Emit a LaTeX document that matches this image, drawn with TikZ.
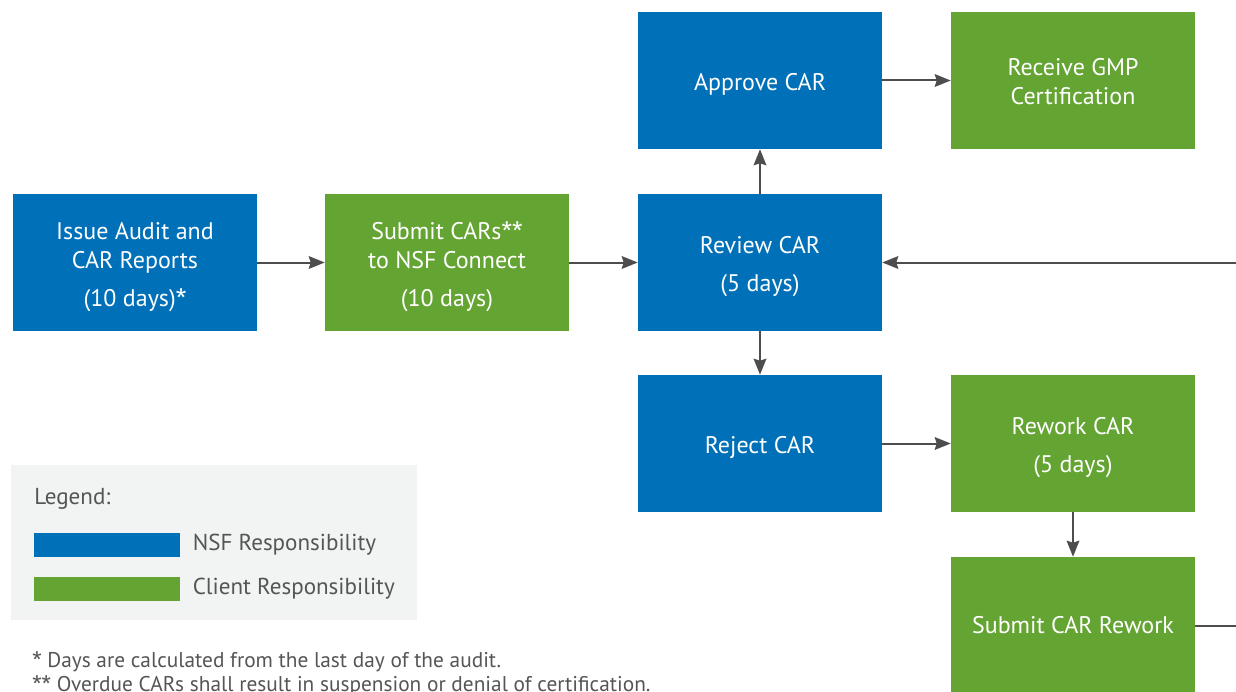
\documentclass[tikz,border=0pt]{standalone}
\usepackage{fontspec}
\setmainfont{PT Sans}
\newfontfamily\starfont{Fira Sans}
\usetikzlibrary{positioning,calc,arrows.meta}

\definecolor{nsfblue}{RGB}{0,112,184}
\definecolor{clientgreen}{RGB}{100,164,50}
\definecolor{legendgray}{RGB}{242,244,243}
\definecolor{arrowgray}{RGB}{77,77,77}
\definecolor{notegray}{RGB}{85,85,85}

\newcommand{\mystar}{{\starfont*}}
\newcommand{\topgap}{\rule{0pt}{19pt}}

\tikzset{
  stepbox/.style={minimum width=183pt, minimum height=102.75pt, inner sep=0pt,
    text=white, align=center, font=\fontsize{18}{21.75}\selectfont},
  nsf/.style={stepbox, fill=nsfblue},
  client/.style={stepbox, fill=clientgreen},
  flow/.style={draw=arrowgray, line width=1.5pt,
    -{Stealth[length=12pt, width=9.5pt, inset=1.5pt]}},
  keytext/.style={text=notegray, anchor=west, inner sep=0pt,
    font=\fontsize{17.3}{20}\selectfont},
  notetext/.style={keytext, font=\fontsize{16}{18}\selectfont},
  keybar/.style={minimum width=109.5pt, minimum height=18pt, inner sep=0pt, anchor=west},
}

\begin{document}
\begin{tikzpicture}[x=0.75pt, y=-0.75pt]
    \useasboundingbox (0,0) rectangle (1236,692);
    \clip (0,0) rectangle (1236,692);

    % Audit steps
    \node[nsf] (issue) at (135,262.5) {\topgap Issue Audit and\\CAR Reports\\[6.75pt](10 days)\mystar};
    \node[client] (submit) at (447,262.5) {\topgap Submit CARs\mystar\mystar\\to NSF Connect\\[6.75pt](10 days)};
    \node[nsf] (review) at (760,262.5) {\topgap Review CAR\\[6.75pt](5 days)};
    \node[nsf] (approve) at (760,80.5) {\topgap Approve CAR};
    \node[client] (receive) at (1073,80.5) {\rule{0pt}{14.5pt}Receive GMP\\Certification};
    \node[nsf] (reject) at (760,443.5) {\topgap Reject CAR};
    \node[client] (rework) at (1073,443.5) {\topgap Rework CAR\\[6.75pt](5 days)};
    \node[client] (resubmit) at (1073,625.5) {Submit CAR Rework};

    % Connectors
    \draw[flow] (issue) -- (submit);
    \draw[flow] (submit) -- (review);
    \draw[flow] (review) -- (approve);
    \draw[flow] (approve) -- (receive);
    \draw[flow] (review) -- (reject);
    \draw[flow] (reject) -- (rework);
    \draw[flow] (rework) -- (resubmit);
    \coordinate (loopback) at (1260,625.5);
    \draw[flow] (resubmit.east) -- (loopback) |- (review.east);

    % Legend
    \fill[legendgray] (11,465) rectangle (417,620);
    \node[keytext] (legtitle) at (34,499) {Legend:};
    \node[keybar, fill=nsfblue] (nsfkey) at (34,545) {};
    \node[keytext, right=9pt of nsfkey] (nsflabel) {NSF Responsibility};
    \node[keybar, fill=clientgreen] (clientkey) at (34,589) {};
    \node[keytext, right=9pt of clientkey] (clientlabel) {Client Responsibility};

    % Footnotes
    \node[notetext] (note1) at (32,662) {\mystar{} Days are calculated from the last day of the audit.};
    \node[notetext] (note2) at (32,686) {\mystar\mystar{} Overdue CARs shall result in suspension or denial of certification.};
\end{tikzpicture}
\end{document}
